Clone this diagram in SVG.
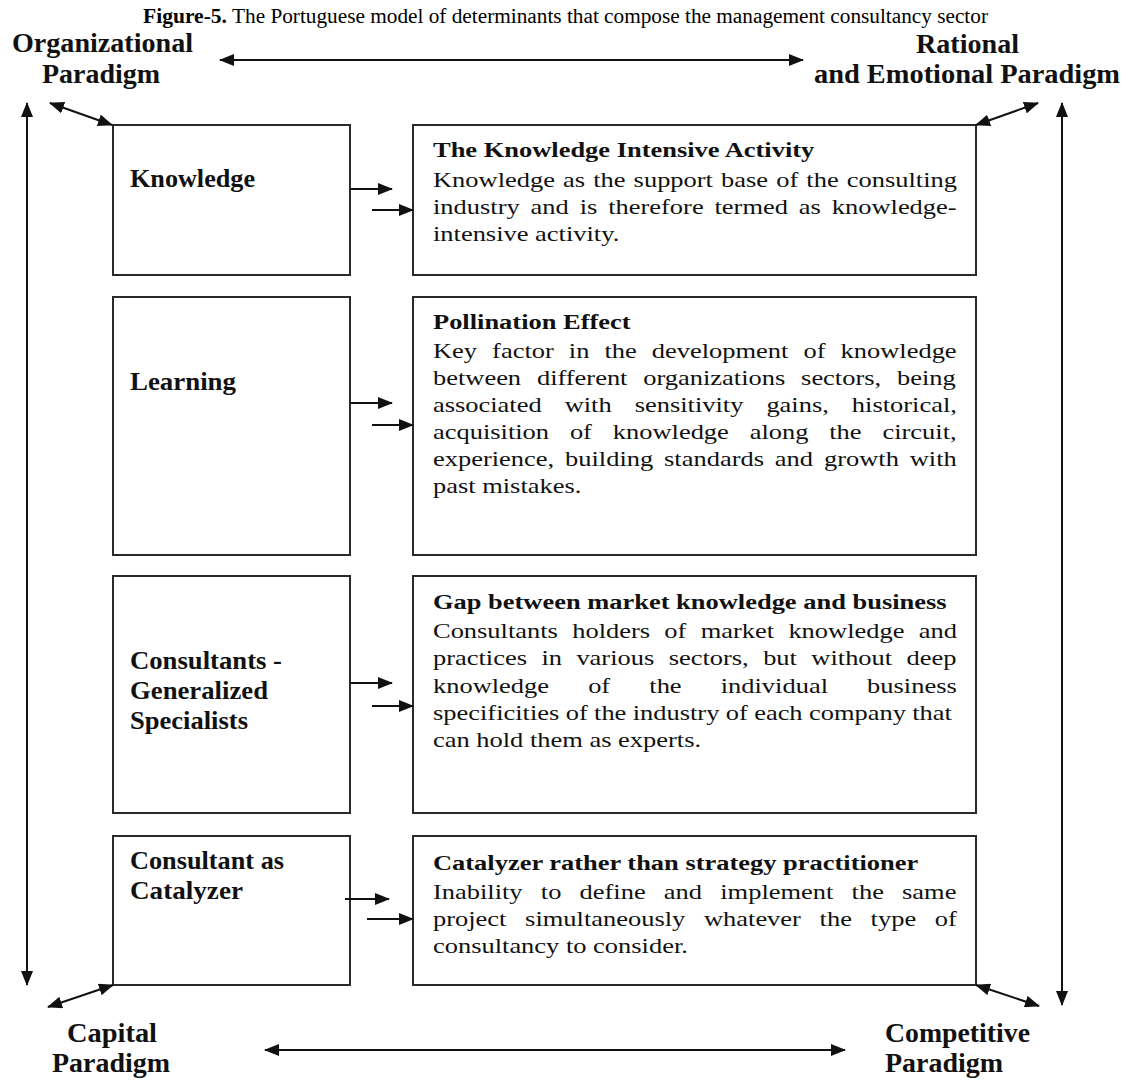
<svg xmlns="http://www.w3.org/2000/svg" width="1129" height="1081" viewBox="0 0 1129 1081">
<style>
  .box { fill: #ffffff; stroke: #2a2a2a; stroke-width: 2; }
  .conn { stroke: #111; stroke-width: 2; fill: none; }
  .par { font-family: "Liberation Serif", "Times New Roman", serif; font-weight: bold; font-size: 27px; fill: #111; }
  .lab { font-family: "Liberation Serif", "Times New Roman", serif; font-weight: bold; font-size: 25px; fill: #111; }
  .bt { font-family: "Liberation Serif", "Times New Roman", serif; font-weight: bold; font-size: 21px; fill: #111; }
  .bd { font-family: "Liberation Serif", "Times New Roman", serif; font-size: 21px; fill: #111; }
  .cap { font-family: "Liberation Serif", "Times New Roman", serif; font-size: 20px; fill: #000; }
</style>
<defs>
  <marker id="ah" markerUnits="userSpaceOnUse" markerWidth="15" markerHeight="12" refX="14" refY="6" orient="auto-start-reverse">
    <path d="M0,0 L15,6 L0,12 z" fill="#111"/>
  </marker>
</defs>
<rect width="1129" height="1081" fill="#ffffff"/>

<g id="caption">
  <text class="cap" x="143" y="23" font-weight="bold" textLength="84" lengthAdjust="spacingAndGlyphs">Figure-5.</text>
  <text class="cap" x="232" y="23" textLength="756" lengthAdjust="spacingAndGlyphs">The Portuguese model of determinants that compose the management consultancy sector</text>
</g>

<g id="paradigm-organizational">
  <text class="par" x="12" y="52" textLength="181" lengthAdjust="spacingAndGlyphs">Organizational</text>
  <text class="par" x="42" y="83" textLength="118" lengthAdjust="spacingAndGlyphs">Paradigm</text>
</g>
<g id="paradigm-rational">
  <text class="par" x="916" y="53" textLength="103" lengthAdjust="spacingAndGlyphs">Rational</text>
  <text class="par" x="814" y="83" textLength="306" lengthAdjust="spacingAndGlyphs">and Emotional Paradigm</text>
</g>
<g id="paradigm-capital">
  <text class="par" x="67" y="1042" textLength="90" lengthAdjust="spacingAndGlyphs">Capital</text>
  <text class="par" x="52" y="1072" textLength="118" lengthAdjust="spacingAndGlyphs">Paradigm</text>
</g>
<g id="paradigm-competitive">
  <text class="par" x="885" y="1042" textLength="145" lengthAdjust="spacingAndGlyphs">Competitive</text>
  <text class="par" x="885" y="1072" textLength="118" lengthAdjust="spacingAndGlyphs">Paradigm</text>
</g>

<g id="node-knowledge">
  <rect class="box" x="113" y="125" width="237" height="150"/>
  <text class="lab" x="130" y="187" textLength="125" lengthAdjust="spacingAndGlyphs">Knowledge</text>
</g>
<g id="node-learning">
  <rect class="box" x="113" y="297" width="237" height="258"/>
  <text class="lab" x="130" y="390" textLength="106" lengthAdjust="spacingAndGlyphs">Learning</text>
</g>
<g id="node-consultants">
  <rect class="box" x="113" y="576" width="237" height="237"/>
  <text class="lab" x="130" y="669" textLength="152" lengthAdjust="spacingAndGlyphs">Consultants -</text>
  <text class="lab" x="130" y="699" textLength="138" lengthAdjust="spacingAndGlyphs">Generalized</text>
  <text class="lab" x="130" y="729" textLength="118" lengthAdjust="spacingAndGlyphs">Specialists</text>
</g>
<g id="node-catalyzer">
  <rect class="box" x="113" y="836" width="237" height="149"/>
  <text class="lab" x="130" y="869" textLength="154" lengthAdjust="spacingAndGlyphs">Consultant as</text>
  <text class="lab" x="130" y="899" textLength="113" lengthAdjust="spacingAndGlyphs">Catalyzer</text>
</g>

<g id="node-kia">
  <rect class="box" x="413" y="125" width="563" height="150"/>
  <g transform="scale(1.26,1)">
    <text class="bt" x="343.65" y="157">The Knowledge Intensive Activity</text>
    <text class="bd" x="343.65" y="187" word-spacing="1.2">Knowledge as the support base of the consulting</text>
    <text class="bd" x="343.65" y="214" word-spacing="3.4">industry and is therefore termed as knowledge-</text>
    <text class="bd" x="343.65" y="241">intensive activity.</text>
  </g>
</g>
<g id="node-pollination">
  <rect class="box" x="413" y="297" width="563" height="258"/>
  <g transform="scale(1.26,1)">
    <text class="bt" x="343.65" y="329">Pollination Effect</text>
    <text class="bd" x="343.65" y="358" word-spacing="6.7">Key factor in the development of knowledge</text>
    <text class="bd" x="343.65" y="385" word-spacing="7.3">between different organizations sectors, being</text>
    <text class="bd" x="343.65" y="412" word-spacing="13">associated with sensitivity gains, historical,</text>
    <text class="bd" x="343.65" y="439" word-spacing="11.3">acquisition of knowledge along the circuit,</text>
    <text class="bd" x="343.65" y="466" word-spacing="3.4">experience, building standards and growth with</text>
    <text class="bd" x="343.65" y="493">past mistakes.</text>
  </g>
</g>
<g id="node-gap">
  <rect class="box" x="413" y="576" width="563" height="237"/>
  <g transform="scale(1.26,1)">
    <text class="bt" x="343.65" y="609">Gap between market knowledge and business</text>
    <text class="bd" x="343.65" y="638" word-spacing="6.1">Consultants holders of market knowledge and</text>
    <text class="bd" x="343.65" y="665.5" word-spacing="6.2">practices in various sectors, but without deep</text>
    <text class="bd" x="343.65" y="693" word-spacing="25.8">knowledge of the individual business</text>
    <text class="bd" x="343.65" y="720" word-spacing="-0.2">specificities of the industry of each company that</text>
    <text class="bd" x="343.65" y="747">can hold them as experts.</text>
  </g>
</g>
<g id="node-catalyzer-practitioner">
  <rect class="box" x="413" y="836" width="563" height="149"/>
  <g transform="scale(1.26,1)">
    <text class="bt" x="343.65" y="870">Catalyzer rather than strategy practitioner</text>
    <text class="bd" x="343.65" y="899" word-spacing="9.2">Inability to define and implement the same</text>
    <text class="bd" x="343.65" y="926" word-spacing="9.6">project simultaneously whatever the type of</text>
    <text class="bd" x="343.65" y="953">consultancy to consider.</text>
  </g>
</g>

<g id="connectors">
  <line class="conn" x1="220" y1="60" x2="803" y2="60" marker-start="url(#ah)" marker-end="url(#ah)"/>
  <line class="conn" x1="265" y1="1050" x2="845" y2="1050" marker-start="url(#ah)" marker-end="url(#ah)"/>
  <line class="conn" x1="27" y1="103" x2="27" y2="985" marker-start="url(#ah)" marker-end="url(#ah)"/>
  <line class="conn" x1="1062" y1="103" x2="1062" y2="1005" marker-start="url(#ah)" marker-end="url(#ah)"/>
  <line class="conn" x1="50" y1="103" x2="112" y2="125" marker-start="url(#ah)" marker-end="url(#ah)"/>
  <line class="conn" x1="976" y1="125" x2="1038" y2="103" marker-start="url(#ah)" marker-end="url(#ah)"/>
  <line class="conn" x1="113" y1="985" x2="48" y2="1007" marker-start="url(#ah)" marker-end="url(#ah)"/>
  <line class="conn" x1="976" y1="985" x2="1039" y2="1006" marker-start="url(#ah)" marker-end="url(#ah)"/>
  <line class="conn" x1="350" y1="189" x2="392" y2="189" marker-end="url(#ah)"/>
  <line class="conn" x1="372" y1="210" x2="413" y2="210" marker-end="url(#ah)"/>
  <line class="conn" x1="350" y1="403" x2="392" y2="403" marker-end="url(#ah)"/>
  <line class="conn" x1="372" y1="425" x2="413" y2="425" marker-end="url(#ah)"/>
  <line class="conn" x1="350" y1="683" x2="392" y2="683" marker-end="url(#ah)"/>
  <line class="conn" x1="372" y1="706" x2="413" y2="706" marker-end="url(#ah)"/>
  <line class="conn" x1="345" y1="899" x2="389" y2="899" marker-end="url(#ah)"/>
  <line class="conn" x1="367" y1="919" x2="413" y2="919" marker-end="url(#ah)"/>
</g>
</svg>
